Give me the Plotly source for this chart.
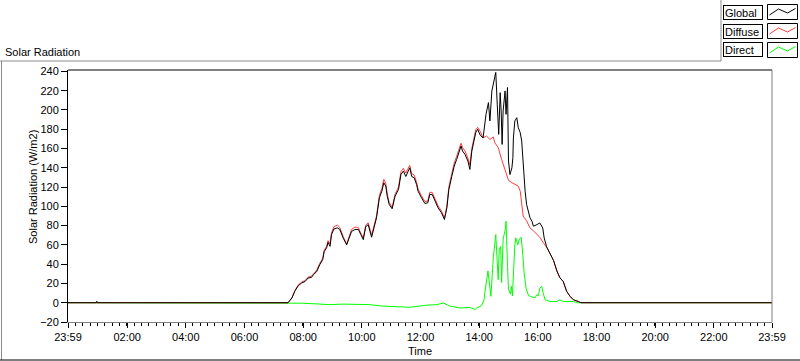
import plotly.graph_objects as go

# ---------------- data ----------------
DAY = "2024-05-02"
WINDOW_START = "2024-05-01 23:59"
WINDOW_END = "2024-05-02 23:59"

global_times = [WINDOW_START, "00:57", "00:58", "00:59", "07:29", "07:37", "07:43", "07:50", "07:57",
                "08:04", "08:10", "08:17", "08:21", "08:28", "08:34", "08:40", "08:43", "08:48", "08:51",
                "08:55", "08:58", "09:03", "09:10", "09:15", "09:22", "09:29", "09:34", "09:39", "09:46",
                "09:53", "09:58", "10:03", "10:08", "10:13", "10:20", "10:25", "10:30", "10:36", "10:41",
                "10:45", "10:49", "10:52", "10:56", "11:02", "11:08", "11:15", "11:20", "11:25", "11:30",
                "11:35", "11:38", "11:42", "11:47", "11:52", "11:55", "12:02", "12:09", "12:15", "12:19",
                "12:24", "12:30", "12:36", "12:43", "12:49", "12:54", "12:58", "13:04", "13:09", "13:14",
                "13:19", "13:23", "13:26", "13:31", "13:37", "13:41", "13:45", "13:48", "13:53", "13:57",
                "14:02", "14:08", "14:14", "14:19", "14:22", "14:26", "14:29", "14:32", "14:34", "14:37",
                "14:40", "14:43", "14:45", "14:47", "14:49", "14:53", "14:55", "14:58", "15:00", "15:03",
                "15:07", "15:09", "15:10", "15:13", "15:17", "15:20", "15:24", "15:27", "15:30", "15:34",
                "15:37", "15:41", "15:44", "15:48", "15:51", "15:58", "16:04", "16:10", "16:13", "16:18",
                "16:25", "16:32", "16:39", "16:45", "16:52", "16:59", "17:06", "17:13", "17:23", "17:28",
                WINDOW_END]
global_vals = [0, 0, 1.5, 0, 0, 5, 12, 17.7, 20.5,
               22, 25.6, 26.3, 29, 32.6, 39.5, 44.7, 53, 57, 62.7,
               58.5, 70.7, 76.6, 77.7, 76, 67, 60, 67, 74, 76,
               76, 70.7, 65.5, 79, 81, 68, 77.7, 88, 109, 115.8,
               124.5, 121, 110.5, 102, 97.5, 110.5, 117.5, 133, 136.6, 131,
               136.6, 140, 131, 129.7, 122.7, 115.8, 108.9, 103, 103.7, 112.3,
               112.3, 105.4, 98.5, 93.3, 86.3, 98.5, 117.5, 131, 141.8, 148.7,
               155.7, 162.6, 157.4, 154, 147, 138.3, 157.4, 166, 176.5, 180,
               174, 171, 195.5, 207.7, 188.6, 219.8, 226.7, 233.7, 239, 206,
               174.7, 218, 199, 164.3, 199, 219.8, 195.5, 223.3, 147, 133,
               140, 150.5, 171, 188.6, 192, 181.7, 176.5, 167.8, 143.5, 115.8,
               102, 95, 88, 84.6, 79.4, 81, 82.8, 77.7, 67.3, 58,
               51, 44, 33, 26, 22, 11.8, 6.6, 3, 1.3, 0,
               0]

diffuse_times = [WINDOW_START, "07:29", "07:37", "07:43", "07:50", "07:57",
                 "08:04", "08:10", "08:17", "08:21", "08:28", "08:34", "08:40", "08:43", "08:48", "08:51",
                 "08:55", "08:58", "09:03", "09:10", "09:15", "09:22", "09:29", "09:34", "09:39", "09:46",
                 "09:53", "09:58", "10:03", "10:08", "10:13", "10:20", "10:25", "10:30", "10:36", "10:41",
                 "10:45", "10:49", "10:52", "10:56", "11:02", "11:08", "11:15", "11:20", "11:25", "11:30",
                 "11:35", "11:38", "11:42", "11:47", "11:52", "11:55", "12:02", "12:09", "12:15", "12:19",
                 "12:24", "12:30", "12:36", "12:43", "12:49", "12:54", "12:58", "13:04", "13:09", "13:14",
                 "13:19", "13:23", "13:26", "13:31", "13:37", "13:41", "13:45", "13:48", "13:53", "13:57",
                 "14:02", "14:08", "14:15", "14:22", "14:29", "14:32", "14:39", "14:46", "14:53", "15:00",
                 "15:07", "15:13", "15:20", "15:24", "15:27", "15:30", "15:37", "15:44", "15:51", "15:58",
                 "16:04", "16:11", "16:18", "16:25", "16:32", "16:39", "16:45", "16:52", "16:59", "17:06",
                 "17:13", "17:23", "17:28", WINDOW_END]
diffuse_vals = [0, 0, 5, 12.5, 18.5, 21.5,
                23, 26.5, 27.5, 30, 34, 41, 46, 54.5, 58.5, 64.5,
                61, 72.5, 79, 80.5, 78, 68.5, 61, 68.5, 76, 78.5,
                78, 72, 67, 80.5, 83, 70, 79.5, 90, 111.5, 118.5,
                128, 124, 113, 104, 99, 112.5, 120, 136, 139.5, 134.5,
                139.5, 142.5, 134, 132.5, 125, 118, 111, 105, 105.5, 114.5,
                114.5, 107.5, 100.5, 95, 88, 100.5, 120, 134, 145, 152,
                159, 165.5, 161, 157.5, 150, 143, 160, 169, 179.5, 182,
                178, 171, 173, 169.5, 172, 166, 161, 148.7, 138.3, 127,
                124.5, 122.7, 121, 115.8, 104, 90, 85, 77.7, 74.5, 71,
                68, 62.5, 57.5, 51, 44, 33, 26, 22, 11.8, 6.6,
                3, 1.3, 0, 0]

direct_times = [WINDOW_START, "07:26", "08:00", "08:34", "08:55", "09:22", "10:10", "10:17", "10:43",
                "11:38", "12:13", "12:33", "12:47", "13:00", "13:21", "13:41", "13:52", "13:55", "14:05",
                "14:10", "14:12", "14:15", "14:18", "14:21", "14:24", "14:29", "14:32", "14:34", "14:37",
                "14:39", "14:41", "14:44", "14:46", "14:49", "14:53", "14:55", "14:58", "15:00", "15:04",
                "15:06", "15:08", "15:11", "15:13", "15:15", "15:19", "15:22", "15:26", "15:29", "15:32",
                "15:36", "15:41", "15:48", "15:54", "15:58", "16:01", "16:04", "16:08", "16:11", "16:15",
                "16:25", "16:39", "16:45", "16:52", "17:13", "17:20", WINDOW_END]
direct_vals = [0, 0, -0.5, -1.4, -2, -1.4, -1.4, -2, -3.5,
               -4.7, -2.5, -2, -0.3, -3.5, -5.5, -5, -7, -5.5, -3,
               3, 12, 22, 33, 20, 6.6, 47, 58.5, 70.7, 42,
               24, 55, 58.5, 21, 66, 75, 84.6, 37.8, 14, 9,
               17, 7, 45, 60, 67.3, 60, 66, 68, 51.7, 31,
               15, 7.5, 6, 5, 8.3, 7, 15, 17, 10, 3,
               1.3, 1.3, 3, 1.3, 1.3, 0, 0]

series_names = ["Global", "Diffuse", "Direct"]
series_colors = ["#000000", "#ff3c3c", "#00ff00"]

major_tick_times = [WINDOW_START, "02:00", "04:00", "06:00", "08:00", "10:00", "12:00",
                    "14:00", "16:00", "18:00", "20:00", "22:00", WINDOW_END]
major_tick_text = ["23:59", "02:00", "04:00", "06:00", "08:00", "10:00", "12:00",
                   "14:00", "16:00", "18:00", "20:00", "22:00", "23:59"]
y_tick_vals = [-20, 0, 20, 40, 60, 80, 100, 120, 140, 160, 180, 200, 220, 240]


def ts(t):
    return t if len(t) > 5 else f"{DAY} {t}"


# ---------------- figure geometry ----------------
W, H = 800, 361
ML, MR, MT, MB = 68, 28, 70, 39
PW, PH = W - ML - MR, H - MT - MB
FONT = "Liberation Sans, Arial, sans-serif"


def px(x):
    return (x - ML) / PW


def py(y):
    return (H - MB - y) / PH


fig = go.Figure()
for name, times, vals in [("Direct", direct_times, direct_vals),
                          ("Diffuse", diffuse_times, diffuse_vals),
                          ("Global", global_times, global_vals)]:
    fig.add_trace(go.Scatter(
        x=[ts(t) for t in times], y=vals, mode="lines", name=name,
        line=dict(color=series_colors[series_names.index(name)], width=1),
        showlegend=False,
    ))

shapes = []
annotations = []

# plot frame: top black, right gray
shapes.append(dict(type="line", xref="paper", yref="paper", x0=0, x1=1, y0=1, y1=1,
                   line=dict(color="black", width=1)))
shapes.append(dict(type="line", xref="paper", yref="paper", x0=1, x1=1, y0=0, y1=1,
                   line=dict(color="#808080", width=1)))
# outer panel frame
shapes.append(dict(type="line", xref="paper", yref="paper", x0=px(0), x1=px(721), y0=py(61), y1=py(61),
                   line=dict(color="#8c8c8c", width=1)))
shapes.append(dict(type="line", xref="paper", yref="paper", x0=px(721), x1=px(721), y0=py(0), y1=py(61),
                   line=dict(color="#8c8c8c", width=1)))
shapes.append(dict(type="line", xref="paper", yref="paper", x0=px(1.5), x1=px(1.5), y0=py(61), y1=py(360),
                   line=dict(color="#8c8c8c", width=1)))
shapes.append(dict(type="line", xref="paper", yref="paper", x0=px(0), x1=px(800), y0=py(360), y1=py(360),
                   line=dict(color="black", width=1)))

# custom legend: label boxes + line sample boxes
for i, (name, color) in enumerate(zip(series_names, series_colors)):
    top = 4.5 + i * 19
    annotations.append(dict(
        text=name, xref="paper", yref="paper", x=px(723), y=py(top),
        xanchor="left", yanchor="top", showarrow=False, align="left",
        width=36, height=11, borderpad=1, borderwidth=1, bordercolor="black",
        bgcolor="white", font=dict(family=FONT, size=11, color="black"),
    ))
    shapes.append(dict(type="rect", xref="paper", yref="paper",
                       x0=px(767.5), x1=px(797.5), y0=py(top), y1=py(top + 15),
                       line=dict(color="black", width=1), fillcolor="white"))
    pts = [(769.5, top + 10.5), (778.5, top + 4.5), (787.5, top + 8.5), (795.5, top + 4)]
    path = "M " + " L ".join(f"{px(a):.5f},{py(b):.5f}" for a, b in pts)
    shapes.append(dict(type="path", xref="paper", yref="paper", path=path,
                       line=dict(color=color, width=1)))

# panel title, axis titles
annotations.append(dict(text="Solar Radiation", xref="paper", yref="paper", x=px(3), y=py(52),
                        xanchor="left", yanchor="middle", showarrow=False,
                        font=dict(family=FONT, size=11, color="black")))
annotations.append(dict(text="Solar Radiation (W/m2)", xref="paper", yref="paper", x=px(33), y=py(187),
                        xanchor="center", yanchor="middle", showarrow=False, textangle=-90,
                        font=dict(family=FONT, size=11, color="black")))
annotations.append(dict(text="Time", xref="paper", yref="paper", x=px(420), y=py(351),
                        xanchor="center", yanchor="middle", showarrow=False,
                        font=dict(family=FONT, size=11, color="black")))

fig.update_layout(
    width=W, height=H,
    margin=dict(l=ML, r=MR, t=MT, b=MB, pad=0),
    paper_bgcolor="white", plot_bgcolor="white",
    font=dict(family=FONT, size=11, color="black"),
    shapes=shapes, annotations=annotations,
    showlegend=False,
)
fig.update_xaxes(
    type="date", range=[WINDOW_START, WINDOW_END],
    tickmode="array", tickvals=[ts(t) for t in major_tick_times], ticktext=major_tick_text,
    ticks="outside", ticklen=5, tickcolor="black", tickwidth=1,
    showline=True, linecolor="#808080", linewidth=1,
    showgrid=False, zeroline=False,
    minor=dict(ticks="outside", ticklen=3, tickcolor="black", tickwidth=1,
               tick0=ts(WINDOW_START), dtick=15 * 60 * 1000, showgrid=False),
    tickfont=dict(family=FONT, size=11, color="black"),
)
fig.update_yaxes(
    range=[-20, 241.5],
    tickmode="array", tickvals=y_tick_vals,
    ticks="outside", ticklen=6, tickcolor="black", tickwidth=1,
    showline=True, linecolor="black", linewidth=1,
    showgrid=False, zeroline=False,
    tickfont=dict(family=FONT, size=11, color="black"),
)

fig.write_html(
    "out.html",
    config={"displayModeBar": False},
    post_script="document.body.style.margin='0px';document.body.style.padding='0px';",
)
